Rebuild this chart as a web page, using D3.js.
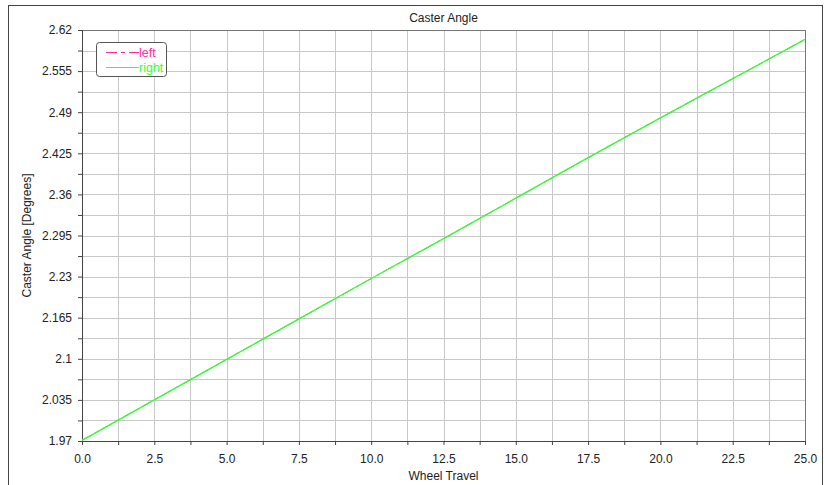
<!DOCTYPE html>
<html>
<head>
<meta charset="utf-8">
<script src="https://cdn.jsdelivr.net/npm/d3@7"></script>
<style>
  body { margin: 0; background: #fff; }
  text { font-family: "Liberation Sans", Arial, sans-serif; fill: #222; }
</style>
</head>
<body>
<div id="chart"></div>
<script>
// data
var wheelTravel = [0, 2.5, 5, 7.5, 10, 12.5, 15, 17.5, 20, 22.5, 25];
var casterLeft  = [1.971, 2.035, 2.099, 2.163, 2.227, 2.290, 2.354, 2.418, 2.481, 2.543, 2.605];
var casterRight = [1.971, 2.035, 2.099, 2.163, 2.227, 2.290, 2.354, 2.418, 2.481, 2.543, 2.605];
var xTickLabels = ["0.0", "2.5", "5.0", "7.5", "10.0", "12.5", "15.0", "17.5", "20.0", "22.5", "25.0"];
var yTickValues = [1.97, 2.035, 2.1, 2.165, 2.23, 2.295, 2.36, 2.425, 2.49, 2.555, 2.62];
var seriesNames = ["left", "right"];
var seriesColors = ["#ff2aa0", "#33ff33"];

var W = 824, H = 485;
var pLeft = 82, pRight = 805, pTop = 30, pBottom = 441;

var svg = d3.select("#chart").append("svg")
    .attr("width", W)
    .attr("height", H);

// outer frame
svg.append("rect")
    .attr("x", 8.5).attr("y", 5.5)
    .attr("width", 814).attr("height", 490)
    .attr("fill", "none").attr("stroke", "#444");

var xScale = d3.scaleLinear().domain([0, 25]).range([pLeft, pRight]);
var yScale = d3.scaleLinear().domain([1.97, 2.62]).range([pBottom, pTop]);

// grid at half steps
var xGrid = d3.range(0, 21).map(function(i) { return i * 1.25; });
var yGrid = d3.range(0, 21).map(function(i) { return 1.97 + i * 0.0325; });

svg.append("g").selectAll("line")
    .data(xGrid).enter().append("line")
    .attr("x1", function(d) { return Math.round(xScale(d)) + 0.5; })
    .attr("x2", function(d) { return Math.round(xScale(d)) + 0.5; })
    .attr("y1", pTop).attr("y2", pBottom)
    .attr("stroke", "#c8c8c8");

svg.append("g").selectAll("line")
    .data(yGrid).enter().append("line")
    .attr("y1", function(d) { return Math.round(yScale(d)) + 0.5; })
    .attr("y2", function(d) { return Math.round(yScale(d)) + 0.5; })
    .attr("x1", pLeft).attr("x2", pRight)
    .attr("stroke", "#c8c8c8");

// plot border
svg.append("rect")
    .attr("x", pLeft + 0.5).attr("y", pTop + 0.5)
    .attr("width", pRight - pLeft).attr("height", pBottom - pTop)
    .attr("fill", "none").attr("stroke", "#777");

// axes
var xAxis = d3.axisBottom(xScale)
    .tickValues(xGrid)
    .tickSize(4)
    .tickFormat(function(d, i) { return i % 2 === 0 ? xTickLabels[i / 2] : ""; });

var gx = svg.append("g")
    .attr("transform", "translate(0," + pBottom + ")")
    .call(xAxis);
gx.select(".domain").attr("stroke", "#444");
gx.selectAll(".tick line").attr("stroke", "#444");
gx.selectAll(".tick text").attr("dy", "1.25em").style("font-size", "12px");

var yAxis = d3.axisLeft(yScale)
    .tickValues(yGrid)
    .tickSize(4)
    .tickFormat(function(d, i) { return i % 2 === 0 ? String(yTickValues[i / 2]) : ""; });

var gy = svg.append("g")
    .attr("transform", "translate(" + pLeft + ",0)")
    .call(yAxis);
gy.select(".domain").attr("stroke", "#444");
gy.selectAll(".tick line").attr("stroke", "#444");
gy.selectAll(".tick text").attr("x", -10).style("font-size", "12px");

// lines
var line = d3.line()
    .x(function(d) { return xScale(d[0]); })
    .y(function(d) { return yScale(d[1]); });

var seriesData = [casterLeft, casterRight];
seriesData.forEach(function(vals, k) {
    svg.append("path")
        .datum(wheelTravel.map(function(x, i) { return [x, vals[i]]; }))
        .attr("d", line)
        .attr("fill", "none")
        .attr("stroke", seriesColors[k])
        .attr("stroke-width", k === 0 ? 1 : 1.4)
        .attr("stroke-dasharray", k === 0 ? "11,4,4,4" : null);
});

// titles
svg.append("text")
    .attr("x", (pLeft + pRight) / 2).attr("y", 22)
    .attr("text-anchor", "middle")
    .style("font-size", "12px")
    .text("Caster Angle");

svg.append("text")
    .attr("x", (pLeft + pRight) / 2).attr("y", 480)
    .attr("text-anchor", "middle")
    .style("font-size", "12px")
    .text("Wheel Travel");

svg.append("text")
    .attr("transform", "translate(31," + (pTop + pBottom) / 2 + ") rotate(-90)")
    .attr("text-anchor", "middle")
    .style("font-size", "12px")
    .text("Caster Angle [Degrees]");

// legend
var legend = svg.append("g");
legend.append("rect")
    .attr("x", 96.5).attr("y", 42.5)
    .attr("width", 70).attr("height", 34)
    .attr("rx", 3)
    .attr("fill", "#fff").attr("stroke", "#555");

seriesNames.forEach(function(name, k) {
    var ly = 52 + k * 15;
    legend.append("line")
        .attr("x1", 106).attr("x2", 139)
        .attr("y1", ly + 0.5).attr("y2", ly + 0.5)
        .attr("stroke", seriesColors[k])
        .attr("stroke-width", 1.2)
        .attr("stroke-dasharray", k === 0 ? "11,4,4,4" : null);
    legend.append("text")
        .attr("x", 139).attr("y", ly + 4.5)
        .style("font-size", "12.5px")
        .style("fill", seriesColors[k])
        .text(name);
});
</script>
</body>
</html>
